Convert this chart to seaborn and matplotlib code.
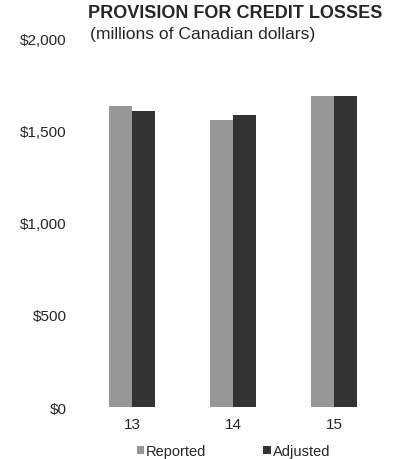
import matplotlib
matplotlib.use("Agg")
import matplotlib.pyplot as plt
import seaborn as sns
import pandas as pd
from matplotlib.patches import Patch

# Provision for credit losses, millions of CAD
years = ["13", "14", "15"]
reported = [1631, 1557, 1683]
adjusted = [1606, 1582, 1683]
series_names = ["Reported", "Adjusted"]
y_ticks = [0, 500, 1000, 1500, 2000]
y_tick_labels = ["$0", "$500", "$1,000", "$1,500", "$2,000"]

df = pd.DataFrame({
    "year": years * 2,
    "value": reported + adjusted,
    "series": [series_names[0]] * len(years) + [series_names[1]] * len(years),
})

sns.set_style("white")
plt.rcParams["font.family"] = ["Liberation Sans", "DejaVu Sans"]
text_color = "#262626"

fig = plt.figure(figsize=(3.99, 4.60), dpi=100)
ax = fig.add_axes([0.2043, 0.1130, 0.7594, 0.8022])

palette = {"Reported": "#979797", "Adjusted": "#333333"}
sns.barplot(data=df, x="year", y="value", hue="series", palette=palette,
            width=0.455, saturation=1, linewidth=0, ax=ax, legend=False)

ax.set_xlim(-0.5, 2.5)
ax.set_ylim(0, 2000)
ax.set_yticks(y_ticks)
ax.set_yticklabels(y_tick_labels)
ax.set_xlabel("")
ax.set_ylabel("")
for s in ax.spines.values():
    s.set_visible(False)
ax.tick_params(axis="y", length=0, pad=10.5, labelsize=11, labelcolor=text_color)
ax.tick_params(axis="x", length=0, pad=7, labelsize=11, labelcolor=text_color)

handles = [Patch(facecolor=palette[n], edgecolor="none", label=n) for n in series_names]
fig.legend(handles=handles, loc="center", bbox_to_anchor=(0.585, 0.0174), ncol=2,
           frameon=False, fontsize=10.5, handlelength=0.5, handleheight=0.5,
           handletextpad=0.15, columnspacing=3.9, labelcolor=text_color)

fig.text(0.2206, 0.9717, "PROVISION FOR CREDIT LOSSES", fontsize=13,
         fontweight="bold", color=text_color, ha="left", va="center")
fig.text(0.2256, 0.9250, "(millions of Canadian dollars)", fontsize=12.6,
         color=text_color, ha="left", va="center")

fig.savefig("out.png", dpi=100)
